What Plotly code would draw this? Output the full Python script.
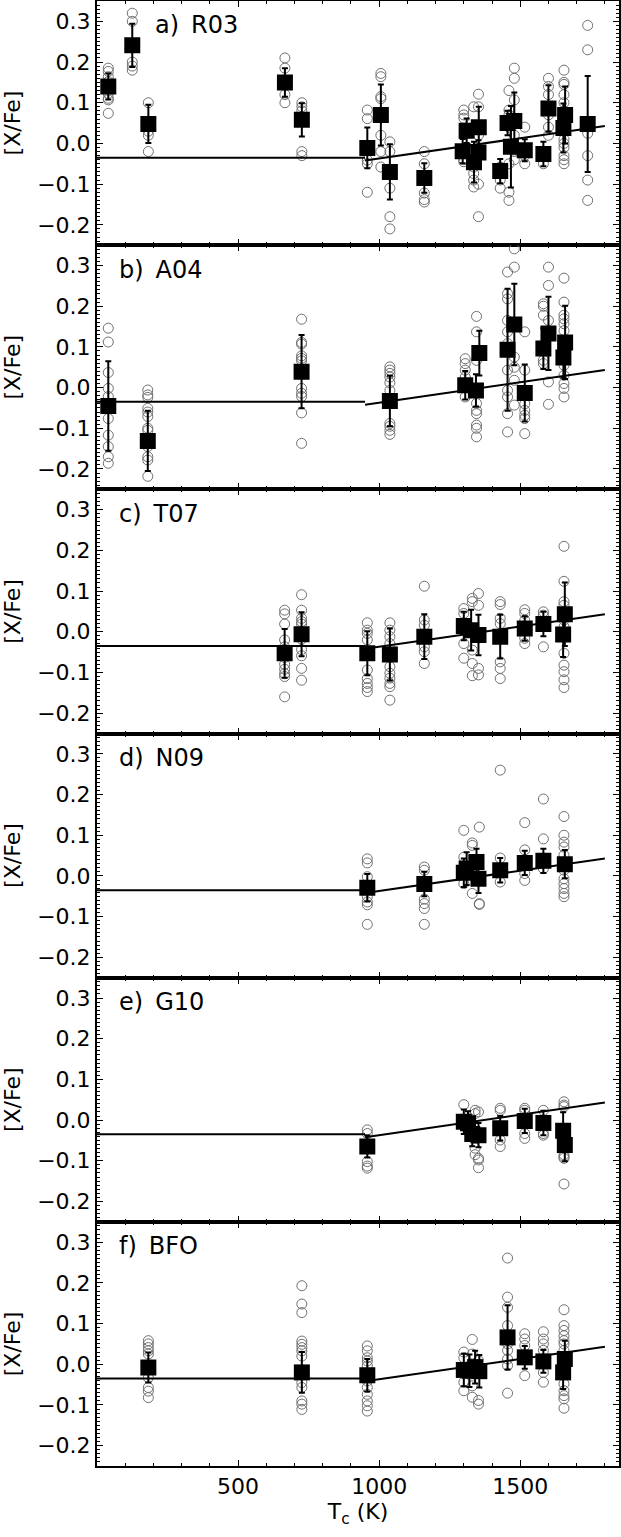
import plotly.graph_objects as go
from plotly.subplots import make_subplots

# ---- axes ----
tc_range = [0, 1850]
xfe_range = [-0.25, 0.35]

# ---- broken fit line (same in every panel) ----
fit_tc = [0, 950, None, 950, 1800]
fit_xfe = [-0.035, -0.035, None, -0.042, 0.043]

panel_labels = ["a) R03", "b) A04", "c) T07", "d) N09", "e) G10", "f) BFO"]
label_tc = [200, 72, 72, 72, 72, 72]

# ---- a) R03 ----
r03_tc = [40, 125, 182, 666, 726, 958, 1006, 1038, 1160, 1296, 1310, 1336, 1352, 1353,
          1429, 1455, 1467, 1479, 1516, 1582, 1600, 1653, 1659, 1739]
r03_xfe = [0.14, 0.241, 0.048, 0.15, 0.058, -0.011, 0.07, -0.07, -0.085, -0.019, 0.031, -0.046,
           -0.022, 0.04, -0.068, 0.05, -0.008, 0.055, -0.017, -0.026, 0.086, 0.038, 0.07, 0.048]
r03_err = [0.032, 0.053, 0.047, 0.035, 0.041, 0.05, 0.075, 0.068, 0.036, 0.03, 0.03, 0.05,
           0.03, 0.05, 0.03, 0.03, 0.1, 0.07, 0.027, 0.03, 0.057, 0.06, 0.07, 0.118]
r03_stars = {
    40: [0.185, 0.177, 0.164, 0.152, 0.123, 0.111, 0.107, 0.074],
    125: [0.32, 0.30, 0.20, 0.19, 0.18],
    182: [0.10, 0.03, 0.02, -0.02],
    666: [0.21, 0.185, 0.12, 0.10],
    726: [0.10, 0.09, 0.08, -0.02, -0.03],
    958: [0.082, 0.061, -0.041, -0.05, -0.12],
    1006: [0.172, 0.164, 0.115, 0.11, 0.02, -0.02, -0.058],
    1038: [0.004, -0.02, -0.11, -0.18, -0.21],
    1160: [-0.02, -0.05, -0.122, -0.138, -0.144],
    1300: [0.082, 0.07, 0.062, -0.045, -0.04],
    1335: [0.09, -0.058, -0.074, -0.09, -0.107],
    1352: [0.121, 0.09, 0.02, -0.18, -0.1],
    1429: [-0.058, -0.09, -0.11, -0.06],
    1460: [0.13, 0.082, 0.07, 0.04, -0.05, -0.14, -0.12],
    1479: [0.185, 0.16, 0.107, 0.02, -0.02, -0.04],
    1516: [0.04, -0.03, -0.05],
    1582: [-0.03, -0.05],
    1600: [0.16, 0.14, 0.12, 0.07, 0.04, 0.02],
    1655: [0.18, 0.15, 0.145, 0.12, 0.1, 0.08, 0.05, 0.03, 0.01, 0.0, -0.01, -0.03, -0.04, -0.05],
    1739: [0.29, 0.23, 0.025, -0.03, -0.09, -0.14],
}

# ---- b) A04 ----
a04_tc = [40, 180, 725, 1038, 1305, 1343, 1355, 1455, 1479, 1516, 1582, 1600, 1653, 1659]
a04_xfe = [-0.045, -0.131, 0.039, -0.033, 0.006, -0.007, 0.085, 0.093, 0.155, -0.013, 0.096,
           0.133, 0.074, 0.111]
a04_err = [0.11, 0.074, 0.09, 0.062, 0.035, 0.04, 0.055, 0.15, 0.1, 0.07, 0.05, 0.09, 0.05, 0.09]
a04_stars = {
    40: [0.146, 0.112, 0.037, -0.002, -0.022, -0.039, -0.076, -0.117, -0.145, -0.17, -0.186],
    180: [-0.006, -0.018, -0.024, -0.051, -0.06, -0.071, -0.1, -0.105, -0.145, -0.17, -0.178, -0.218],
    725: [0.168, 0.111, 0.107, 0.078, 0.072, 0.066, -0.002, -0.014, -0.022, -0.062, -0.137],
    1038: [0.051, 0.043, 0.035, 0.026, 0.012, -0.007, -0.088, -0.095, -0.105, -0.115],
    1305: [0.071, 0.059, 0.043, 0.026, 0.01, -0.023],
    1345: [0.175, 0.137, 0.067, -0.007, -0.039, -0.056, -0.064, -0.092, -0.1, -0.121],
    1455: [0.284, 0.231, 0.218, 0.165, 0.137, 0.108, 0.043, -0.007, -0.023, -0.064, -0.109],
    1479: [0.341, 0.296, 0.075, 0.05, 0.018, -0.043],
    1516: [0.137, 0.043, -0.04, -0.056, -0.068, -0.076, -0.113],
    1582: [0.206, 0.2, 0.178, 0.067, 0.059],
    1600: [0.296, 0.251, 0.165, 0.014, -0.041],
    1655: [0.269, 0.21, 0.178, 0.169, 0.157, 0.14, 0.116, 0.075, 0.055, 0.03, 0.01, -0.002, -0.023],
}

# ---- c) T07 ----
t07_tc = [665, 725, 958, 1038, 1160, 1300, 1326, 1352, 1429, 1516, 1582, 1652, 1658]
t07_xfe = [-0.053, -0.006, -0.053, -0.056, -0.012, 0.014, 0.004, -0.008, -0.012, 0.008, 0.019,
           -0.007, 0.043]
t07_err = [0.06, 0.054, 0.054, 0.064, 0.055, 0.035, 0.05, 0.05, 0.054, 0.03, 0.03, 0.055, 0.078]
t07_stars = {
    665: [0.053, 0.044, 0.019, -0.02, -0.037, -0.047, -0.063, -0.08, -0.092, -0.103, -0.11, -0.16],
    725: [0.091, 0.053, 0.033, 0.025, 0.019, -0.018, -0.044, -0.059, -0.09, -0.119],
    958: [0.022, 0.004, -0.004, -0.02, -0.094, -0.115, -0.127, -0.137, -0.147],
    1038: [0.022, 0.004, -0.012, -0.029, -0.086, -0.102, -0.114, -0.127, -0.135, -0.168],
    1160: [0.112, 0.029, 0.016, -0.037, -0.049, -0.078],
    1300: [0.057, 0.045, -0.029, -0.065],
    1330: [0.082, 0.074, -0.045, -0.078, -0.108],
    1352: [0.094, 0.065, -0.09, -0.106],
    1429: [0.074, 0.067, 0.033, 0.02, -0.074, -0.09, -0.115],
    1516: [0.054, 0.045, 0.028, -0.016, -0.029],
    1582: [0.049, 0.041, -0.037],
    1655: [0.21, 0.124, 0.074, 0.065, 0.029, 0.012, -0.053, -0.082, -0.098, -0.118, -0.137],
}

# ---- d) N09 ----
n09_tc = [958, 1160, 1300, 1310, 1345, 1352, 1429, 1516, 1582, 1658]
n09_xfe = [-0.029, -0.02, 0.008, 0.018, 0.034, -0.007, 0.014, 0.032, 0.037, 0.029]
n09_err = [0.034, 0.03, 0.035, 0.04, 0.033, 0.035, 0.03, 0.03, 0.03, 0.035]
n09_stars = {
    958: [0.042, 0.032, -0.002, -0.051, -0.064, -0.071, -0.119],
    1160: [0.022, 0.014, -0.057, -0.068, -0.08, -0.119],
    1300: [0.112, 0.046, -0.019],
    1330: [0.081, 0.075, -0.043],
    1355: [0.12, -0.068, -0.07],
    1429: [0.26, 0.044, -0.015],
    1516: [0.131, 0.064, 0.006, -0.011],
    1582: [0.189, 0.091, 0.018],
    1655: [0.146, 0.1, 0.083, 0.071, 0.051, 0.034, 0.014, -0.007, -0.019, -0.031, -0.043, -0.051],
}

# ---- e) G10 ----
g10_tc = [958, 1300, 1315, 1330, 1352, 1429, 1516, 1582, 1652, 1658]
g10_xfe = [-0.065, -0.004, -0.008, -0.034, -0.037, -0.02, -0.002, -0.007, -0.026, -0.061]
g10_err = [0.027, 0.03, 0.03, 0.03, 0.03, 0.03, 0.03, 0.03, 0.045, 0.04]
g10_stars = {
    958: [-0.024, -0.033, -0.102, -0.113, -0.118],
    1300: [0.038, 0.0],
    1340: [0.024, 0.016, -0.069, -0.085],
    1352: [0.02, -0.094, -0.098, -0.117],
    1429: [0.029, 0.024, -0.049, -0.065],
    1516: [0.029, 0.024, -0.033, -0.045],
    1582: [0.024, -0.033, -0.037],
    1655: [0.045, 0.037, 0.033, -0.085, -0.09, -0.094, -0.157],
}

# ---- f) BFO ----
bfo_tc = [182, 726, 958, 1300, 1320, 1340, 1355, 1455, 1516, 1582, 1652, 1658]
bfo_xfe = [-0.008, -0.02, -0.027, -0.014, -0.016, -0.007, -0.017, 0.066, 0.017, 0.007, -0.02, 0.013]
bfo_err = [0.037, 0.05, 0.04, 0.04, 0.04, 0.04, 0.04, 0.079, 0.028, 0.028, 0.041, 0.045]
bfo_stars = {
    182: [0.058, 0.05, 0.041, 0.033, 0.025, -0.033, -0.057, -0.066, -0.082],
    726: [0.193, 0.148, 0.127, 0.057, 0.049, 0.041, 0.033, 0.02, -0.045, -0.057, -0.09, -0.098, -0.111],
    958: [0.045, 0.033, 0.016, 0.008, -0.004, -0.041, -0.057, -0.074, -0.09, -0.102, -0.115],
    1300: [0.03, 0.016, -0.044, -0.065],
    1330: [0.061, 0.025, -0.053, -0.081],
    1352: [0.009, -0.089, -0.098],
    1455: [0.261, 0.165, 0.14, 0.095, 0.07, 0.05, 0.034, 0.013, -0.003, -0.071],
    1516: [0.075, 0.062, 0.046, -0.028],
    1582: [0.08, 0.062, 0.05, 0.034, -0.02, -0.044],
    1655: [0.134, 0.095, 0.083, 0.07, 0.058, 0.05, 0.034, -0.048, -0.065, -0.077, -0.085, -0.108],
}

panels = [
    (r03_tc, r03_xfe, r03_err, r03_stars),
    (a04_tc, a04_xfe, a04_err, a04_stars),
    (t07_tc, t07_xfe, t07_err, t07_stars),
    (n09_tc, n09_xfe, n09_err, n09_stars),
    (g10_tc, g10_xfe, g10_err, g10_stars),
    (bfo_tc, bfo_xfe, bfo_err, bfo_stars),
]

FONT = "DejaVu Sans"

fig = make_subplots(rows=6, cols=1, shared_xaxes=True, vertical_spacing=0)

for i, (tc, xfe, err, stars) in enumerate(panels, start=1):
    star_x = [t for t, vals in stars.items() for v in vals]
    star_y = [v for t, vals in stars.items() for v in vals]
    # individual stars: open grey circles
    fig.add_trace(go.Scatter(
        x=star_x, y=star_y, mode="markers",
        marker=dict(symbol="circle-open", size=10, color="#707070", line=dict(width=1))),
        row=i, col=1)
    # fit
    fig.add_trace(go.Scatter(
        x=fit_tc, y=fit_xfe, mode="lines",
        line=dict(color="black", width=2)),
        row=i, col=1)
    # mean values with errors
    fig.add_trace(go.Scatter(
        x=tc, y=xfe, mode="markers",
        marker=dict(symbol="square", size=16, color="black"),
        error_y=dict(type="data", array=err, color="black", thickness=2, width=3)),
        row=i, col=1)
    fig.add_annotation(
        x=label_tc[i - 1], y=0.29, xref="x%s" % ("" if i == 1 else i),
        yref="y%s" % ("" if i == 1 else i),
        text=panel_labels[i - 1].replace(" ", "\u2002"), showarrow=False,
        xanchor="left", yanchor="middle",
        font=dict(family=FONT, size=24, color="black"))

fig.update_xaxes(
    range=tc_range, tickvals=[500, 1000, 1500],
    ticks="inside", ticklen=6, tickwidth=1, tickcolor="black",
    minor=dict(ticks="inside", dtick=100, tick0=0, ticklen=3, tickwidth=1, tickcolor="black"),
    showline=True, linewidth=2, linecolor="black", mirror="allticks",
    showgrid=False, zeroline=False, automargin=False,
    tickfont=dict(family=FONT, size=22, color="black"))
fig.update_xaxes(title_text="T<sub>c</sub> (K)", title_font=dict(family=FONT, size=22, color="black"),
                 title_standoff=4, row=6, col=1)

fig.update_yaxes(
    range=xfe_range, dtick=0.1, tick0=0, tickformat=".1f",
    ticks="inside", ticklen=6, tickwidth=1, tickcolor="black",
    minor=dict(ticks="inside", dtick=0.01, tick0=0, ticklen=3, tickwidth=1, tickcolor="black"),
    showline=True, linewidth=2, linecolor="black", mirror="allticks",
    showgrid=False, zeroline=False, automargin=False,
    tickfont=dict(family=FONT, size=22, color="black"),
    title_text="[X/Fe]", title_font=dict(family=FONT, size=22, color="black"),
    title_standoff=12)

fig.update_layout(
    width=621, height=1537,
    margin=dict(l=97, r=2, t=1, b=71),
    showlegend=False,
    plot_bgcolor="white", paper_bgcolor="white",
)

fig.write_html("out.html", config={"displayModeBar": False},
               post_script="document.body.style.margin='0';")
